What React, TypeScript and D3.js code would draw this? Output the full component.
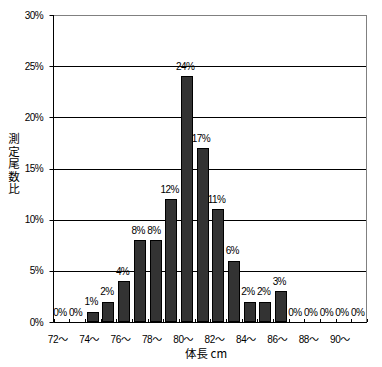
import React from "react";
import * as d3 from "d3";

const categories = ["72", "73", "74", "75", "76", "77", "78", "79", "80", "81", "82", "83", "84", "85", "86", "87", "88", "89", "90", "91"];
const values = [0, 0, 1, 2, 4, 8, 8, 12, 24, 17, 11, 6, 2, 2, 3, 0, 0, 0, 0, 0];
const yTicks = [0, 5, 10, 15, 20, 25, 30];
const xLabelCats = ["72", "74", "76", "78", "80", "82", "84", "86", "88", "90"];
const yTitle = "測定尾数比";
const xTitle = "体長 cm";

const W = 382, H = 367;
const left = 53.5, right = 367, top = 15, bottom = 322;
const numFont = "'Liberation Sans', Arial, sans-serif";
const cjkFont = "'Noto Sans CJK JP', sans-serif";

export default function App() {
  const x = d3.scaleBand<string>().domain(categories).range([left, right]).paddingInner(0.25).paddingOuter(0.125);
  const y = d3.scaleLinear().domain([0, 30]).range([bottom, top]);
  const step = x.step();
  return (
    <svg width={W} height={H} style={{ position: "absolute", left: 0, top: 0, background: "#fff" }}>
      {/* gridlines */}
      {yTicks.filter(t => t > 0).map(t => (
        <line key={t} x1={left} x2={right} y1={Math.round(y(t)) + 0.5} y2={Math.round(y(t)) + 0.5}
          stroke={t === 30 ? "#808080" : "#000"} strokeWidth={1} />
      ))}
      <line x1={right - 0.5} x2={right - 0.5} y1={top} y2={bottom} stroke="#808080" />
      {/* bars */}
      {categories.map((c, i) => values[i] > 0 ? (
        <rect key={c} x={Math.round(x(c)!) + 0.5} y={Math.round(y(values[i])) + 0.5}
          width={Math.round(x.bandwidth()) - 1} height={Math.round(y(0)) - Math.round(y(values[i])) - 1}
          fill="#333333" stroke="#000" strokeWidth={1} />
      ) : null)}
      {/* axes */}
      <line x1={left} x2={left} y1={top} y2={bottom + 0.5} stroke="#000" />
      <line x1={left} x2={right} y1={bottom + 0.5} y2={bottom + 0.5} stroke="#000" />
      {yTicks.map(t => (
        <g key={t}>
          <line x1={left - 4} x2={left} y1={Math.round(y(t)) + 0.5} y2={Math.round(y(t)) + 0.5} stroke="#000" />
          <text x={43} y={y(t) + 3.5} textAnchor="end" fontFamily={numFont} fontSize={10} letterSpacing={-0.6}>{t}%</text>
        </g>
      ))}
      {d3.range(categories.length + 1).map(i => {
        const xx = Math.round(left + i * step) + 0.5;
        return <line key={i} x1={xx} x2={xx} y1={bottom - 3} y2={bottom} stroke="#000" />;
      })}
      {/* data labels */}
      {categories.map((c, i) => (
        <text key={c} x={x(c)! + x.bandwidth() / 2 - 1.5} y={y(values[i]) - 6.5} textAnchor="middle"
          fontFamily={numFont} fontSize={10} letterSpacing={-0.6}>{values[i]}%</text>
      ))}
      {/* x labels */}
      {xLabelCats.map(c => (
        <text key={c} x={x(c)! + x.bandwidth() / 2 - 3.5} y={343} textAnchor="middle" fontFamily={numFont} fontSize={10} letterSpacing={-0.4}>
          {c}<tspan fontFamily={cjkFont}>～</tspan>
        </text>
      ))}
      {/* titles */}
      <text x={206} y={357.5} textAnchor="middle" fontFamily={cjkFont} fontSize={11.5}>{xTitle}</text>
      <text x={14} y={164.5} textAnchor="middle" fontFamily={cjkFont} fontSize={11.5}
        style={{ writingMode: "vertical-rl" }} letterSpacing={1}>{yTitle}</text>
    </svg>
  );
}
